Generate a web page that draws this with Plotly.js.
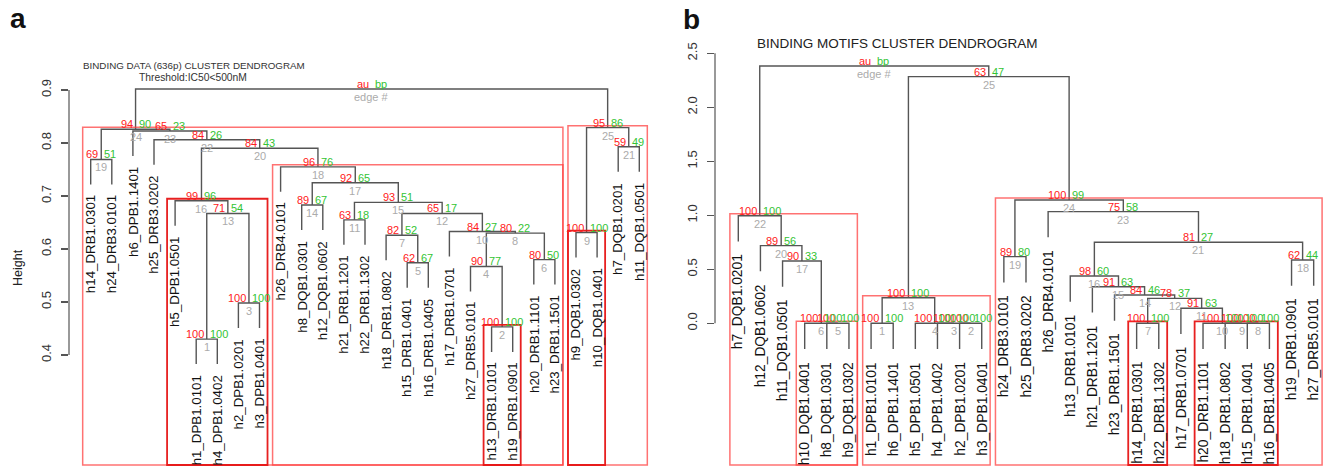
<!DOCTYPE html>
<html><head><meta charset="utf-8">
<script src="https://cdn.plot.ly/plotly-3.0.1.min.js"></script>
<style>html,body{margin:0;padding:0;background:#fff}#chart{width:1325px;height:467px}</style>
</head><body><div id="chart"></div>
<script>
// ---------------- DATA: panel a (binding data) ----------------
const leavesA = ['h14_DRB1.0301','h24_DRB3.0101','h6_DPB1.1401','h25_DRB3.0202','h5_DPB1.0501',
  'h1_DPB1.0101','h4_DPB1.0402','h2_DPB1.0201','h3_DPB1.0401','h26_DRB4.0101','h8_DQB1.0301',
  'h12_DQB1.0602','h21_DRB1.1201','h22_DRB1.1302','h18_DRB1.0802','h15_DRB1.0401','h16_DRB1.0405',
  'h17_DRB1.0701','h27_DRB5.0101','h13_DRB1.0101','h19_DRB1.0901','h20_DRB1.1101','h23_DRB1.1501',
  'h9_DQB1.0302','h10_DQB1.0401','h7_DQB1.0201','h11_DQB1.0501'];
// merge rows = edge numbers; negative = leaf position, positive = earlier edge
const mergeLeftA  = [-6,-20,-8,-19,-16,-22,-15,4,-24,-18,-13,7,1,-11,11,-5,14,-10,-1,16,-26,-4,-3,19,9,24];
const mergeRightA = [-7,-21,-9,2,-17,-23,5,6,-25,8,-14,10,3,-12,12,13,15,17,-2,18,-27,20,22,23,21,25];
const heightA = [0.430,0.453,0.498,0.567,0.574,0.580,0.626,0.630,0.631,0.633,0.655,0.667,0.667,
  0.683,0.688,0.691,0.725,0.755,0.769,0.790,0.793,0.806,0.8226,0.826,0.829,0.902];
const auA = [100,100,100,90,62,80,82,80,100,84,63,65,71,89,93,99,92,96,69,84,59,84,65,94,95,null];
const bpA = [100,100,100,77,67,50,52,22,100,27,18,17,54,67,51,96,65,76,51,43,49,26,23,90,86,null];
const rectEdgesA = [24,18,16,2,25,9];
const rectStrongA = [false,false,true,true,false,true];
const ticksA = [0.4,0.5,0.6,0.7,0.8,0.9];
const tickTextA = ['0.4','0.5','0.6','0.7','0.8','0.9'];

// ---------------- DATA: panel b (binding motifs) ----------------
const leavesB = ['h7_DQB1.0201','h12_DQB1.0602','h11_DQB1.0501','h10_DQB1.0401','h8_DQB1.0301',
  'h9_DQB1.0302','h1_DPB1.0101','h6_DPB1.1401','h5_DPB1.0501','h4_DPB1.0402','h2_DPB1.0201',
  'h3_DPB1.0401','h24_DRB3.0101','h25_DRB3.0202','h26_DRB4.0101','h13_DRB1.0101','h21_DRB1.1201',
  'h23_DRB1.1501','h14_DRB1.0301','h22_DRB1.1302','h17_DRB1.0701','h20_DRB1.1101','h18_DRB1.0802',
  'h15_DRB1.0401','h16_DRB1.0405','h19_DRB1.0901','h27_DRB5.0101'];
const mergeLeftB  = [-7,-11,-10,-9,-5,-4,-19,-24,-23,-22,-21,7,1,-18,-17,-16,-3,-26,-13,-2,16,-1,-15,19,13,22];
const mergeRightB = [-8,-12,2,3,-6,5,-20,-25,8,9,10,11,4,12,14,15,6,-27,-14,17,18,20,21,23,24,25];
const heightB = [0,0,0,0,0,0,0,0,0,0,0.139,0.231,0.237,0.262,0.339,0.438,0.577,0.586,0.617,
  0.719,0.750,0.996,1.034,1.142,2.284,2.382];
const auB = [100,100,100,100,100,100,100,100,100,100,91,78,100,84,91,98,90,62,89,89,81,100,75,100,63,null];
const bpB = [100,100,100,100,100,100,100,100,100,100,63,37,100,46,63,60,33,44,80,56,27,100,58,99,47,null];
const rectEdgesB = [22,6,13,24,7,10];
const rectStrongB = [false,false,false,false,true,true];
const ticksB = [0,0.5,1,1.5,2,2.5];
const tickTextB = ['0.0','0.5','1.0','1.5','2.0','2.5'];

// ---------------- STYLE / GEOMETRY ----------------
const W = 1325, H = 467;
const FONT = 'Liberation Sans, Arial, sans-serif';
const RED = '#ff2020', GREEN = '#33c433', GREY = '#ababab';
const panels = [
  {leaves: leavesA, L: mergeLeftA, R: mergeRightA, h: heightA, au: auA, bp: bpA,
   rects: rectEdgesA, strong: rectStrongA, ticks: ticksA, tickText: tickTextA,
   xa: 'x', ya: 'y', domPx: [69, 660], leaf1Px: 90.7, stepPx: 21.1,
   refVal: 0.9, refPx: 90, pxPerUnit: 530, labelGap: 9, labelSize: 13.3},
  {leaves: leavesB, L: mergeLeftB, R: mergeRightB, h: heightB, au: auB, bp: bpB,
   rects: rectEdgesB, strong: rectStrongB, ticks: ticksB, tickText: tickTextB,
   xa: 'x2', ya: 'y2', domPx: [715, 1325], leaf1Px: 738.3, stepPx: 22.13,
   refVal: 0, refPx: 323.3, pxPerUnit: 108, labelGap: 11, labelSize: 13.8}
];

const traces = [], shapes = [], annotations = [];
const layout = {
  width: W, height: H, margin: {l: 0, r: 0, t: 0, b: 0},
  paper_bgcolor: '#fff', plot_bgcolor: 'rgba(0,0,0,0)', showlegend: false,
  font: {family: FONT}
};

panels.forEach((p, pi) => {
  const n = p.h.length;
  const xr = [1 + (p.domPx[0] - p.leaf1Px) / p.stepPx, 1 + (p.domPx[1] - p.leaf1Px) / p.stepPx];
  const yr = [p.refVal - (H - p.refPx) / p.pxPerUnit, p.refVal + p.refPx / p.pxPerUnit];
  const pxToY = px => p.refVal - (px - p.refPx) / p.pxPerUnit;
  const sfx = pi === 0 ? '' : '2';
  layout['xaxis' + sfx] = {domain: [p.domPx[0] / W, p.domPx[1] / W], range: xr, visible: false,
    anchor: p.ya, fixedrange: true};
  layout['yaxis' + sfx] = {domain: [0, 1], range: yr, anchor: p.xa, tickvals: p.ticks, ticktext: p.tickText,
    tickangle: -90, ticks: 'outside', ticklen: 7, tickwidth: 1.2, tickcolor: '#555',
    showline: false, showgrid: false, zeroline: false, ticklabelstandoff: 5,
    tickfont: {family: FONT, size: 13, color: '#333'}, fixedrange: true};
  shapes.push({type: 'line', xref: 'paper', yref: p.ya, x0: p.domPx[0] / W, x1: p.domPx[0] / W,
    y0: Math.min(...p.ticks), y1: Math.max(...p.ticks), line: {color: '#555', width: 1.2}});

  const hang = 0.1 * (Math.max(...p.h) - Math.min(...p.h));
  const cx = [];
  const childX = c => c < 0 ? -c : cx[c - 1];
  for (let i = 0; i < n; i++) cx.push((childX(p.L[i]) + childX(p.R[i])) / 2);
  const span = c => {
    if (c < 0) return [-c, -c];
    const a = span(p.L[c - 1]), b = span(p.R[c - 1]);
    return [Math.min(a[0], b[0]), Math.max(a[1], b[1])];
  };
  const lx = [], ly = [];
  const leafTip = {};
  for (let i = 0; i < n; i++) {
    const h = p.h[i];
    const cl = p.L[i], cr = p.R[i];
    const yl = cl < 0 ? h - hang : p.h[cl - 1];
    const yrr = cr < 0 ? h - hang : p.h[cr - 1];
    if (cl < 0) leafTip[-cl] = h - hang;
    if (cr < 0) leafTip[-cr] = h - hang;
    lx.push(childX(cl), childX(cl), childX(cr), childX(cr), null);
    ly.push(yl, h, h, yrr, null);
  }
  traces.push({type: 'scatter', mode: 'lines', x: lx, y: ly, xaxis: p.xa, yaxis: p.ya,
    line: {color: '#555555', width: 1.4}, hoverinfo: 'skip', cliponaxis: false});

  p.leaves.forEach((lab, k) => {
    annotations.push({xref: p.xa, yref: p.ya, x: k + 1, y: leafTip[k + 1], text: lab, textangle: -90,
      showarrow: false, xanchor: 'center', yanchor: 'top', yshift: -p.labelGap,
      font: {family: FONT, size: p.labelSize, color: '#111'}});
  });

  const fs = 11;
  for (let i = 0; i < n; i++) {
    const isRoot = i === n - 1;
    annotations.push({xref: p.xa, yref: p.ya, x: cx[i], y: p.h[i], text: isRoot ? 'au' : String(p.au[i]),
      showarrow: false, xanchor: 'right', yanchor: 'middle', xshift: -1, yshift: 5,
      font: {family: FONT, size: fs, color: RED}});
    annotations.push({xref: p.xa, yref: p.ya, x: cx[i], y: p.h[i], text: isRoot ? 'bp' : String(p.bp[i]),
      showarrow: false, xanchor: 'left', yanchor: 'middle', xshift: 1, yshift: 5,
      font: {family: FONT, size: fs, color: GREEN}});
    annotations.push({xref: p.xa, yref: p.ya, x: cx[i], y: p.h[i], text: isRoot ? 'edge #' : String(i + 1),
      showarrow: false, xanchor: 'center', yanchor: 'middle', yshift: -8,
      font: {family: FONT, size: fs, color: GREY}});
  }

  p.rects.forEach((e, k) => {
    const s = span(e);
    shapes.push({type: 'rect', xref: p.xa, yref: p.ya, x0: s[0] - 0.38, x1: s[1] + 0.38,
      y0: pxToY(465), y1: p.h[e - 1] + 2 / p.pxPerUnit,
      line: {color: p.strong[k] ? 'rgba(230,20,20,0.95)' : 'rgba(255,60,60,0.72)', width: p.strong[k] ? 1.8 : 1.5},
      fillcolor: 'rgba(0,0,0,0)', layer: 'above'});
  });
});

annotations.push(
  {xref: 'paper', yref: 'paper', x: 18 / W, y: 1 - 19 / H, text: '<b>a</b>', showarrow: false,
   xanchor: 'center', yanchor: 'middle', font: {family: FONT, size: 28, color: '#111'}},
  {xref: 'paper', yref: 'paper', x: 692 / W, y: 1 - 20 / H, text: '<b>b</b>', showarrow: false,
   xanchor: 'center', yanchor: 'middle', font: {family: FONT, size: 28, color: '#111'}},
  {xref: 'paper', yref: 'paper', x: 194 / W, y: 1 - 66 / H, text: 'BINDING DATA (636p) CLUSTER DENDROGRAM',
   showarrow: false, xanchor: 'center', yanchor: 'middle', font: {family: FONT, size: 9.8, color: '#333'}},
  {xref: 'paper', yref: 'paper', x: 193 / W, y: 1 - 77 / H, text: 'Threshold:IC50&lt;500nM',
   showarrow: false, xanchor: 'center', yanchor: 'middle', font: {family: FONT, size: 10.3, color: '#333'}},
  {xref: 'paper', yref: 'paper', x: 897 / W, y: 1 - 43 / H, text: 'BINDING MOTIFS CLUSTER DENDROGRAM',
   showarrow: false, xanchor: 'center', yanchor: 'middle', font: {family: FONT, size: 13.5, color: '#222'}},
  {xref: 'paper', yref: 'paper', x: 18 / W, y: 1 - 268 / H, text: 'Height', textangle: -90,
   showarrow: false, xanchor: 'center', yanchor: 'middle', font: {family: FONT, size: 12.5, color: '#222'}}
);

layout.shapes = shapes;
layout.annotations = annotations;
Plotly.newPlot('chart', traces, layout, {staticPlot: true, displayModeBar: false});
</script></body></html>
